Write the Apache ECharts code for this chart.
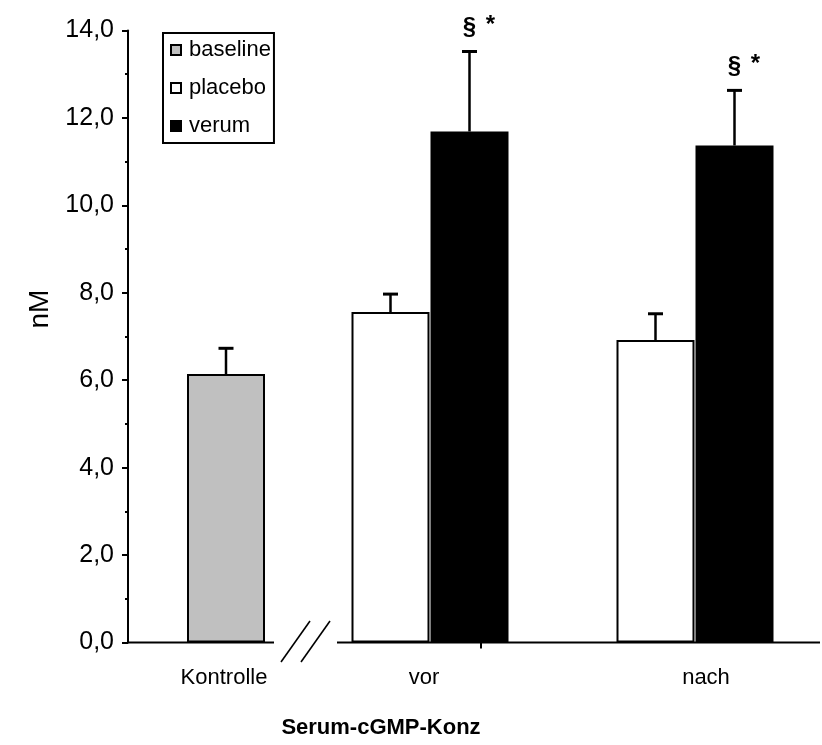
<!DOCTYPE html>
<html>
<head>
<meta charset="utf-8">
<style>
  html, body { margin: 0; padding: 0; background: #fff; }
  #chart { width: 822px; height: 745px; }
</style>
<script src="https://cdn.jsdelivr.net/npm/echarts@6/dist/echarts.min.js"></script>
</head>
<body>
<div id="chart"></div>
<script>
// Serum cGMP concentration (nM), mean + SD
const categories = ['Kontrolle', 'vor', 'nach'];
const seriesNames = ['baseline', 'placebo', 'verum'];
const baseline = [6.14, null, null];
const placebo = [null, 7.56, 6.92];
const verum = [null, 11.69, 11.37];
const baselineErr = [0.59, null, null];
const placeboErr = [null, 0.41, 0.60];
const verumErr = [null, 1.83, 1.26];
const verumMarks = [null, ['§', '*'], ['§', '*']];
const yMin = 0, yMax = 14, yStep = 2;

// Layout on the horizontal scale (one unit = one pixel from the value axis)
const X_MAX = 692;
const groupX = [98, 302, 567];
const labelX = [96, 296, 578];
const BAR_W = 78;
const barShift = { baseline: 0, placebo: -39.5, verum: 39.5 };
const axisSegments = [[0, 146], [209, X_MAX]];
const breakMarks = [153, 173];
const extraTicks = [353];

const FONT = '"Liberation Sans", Arial, sans-serif';
const colors = { baseline: '#c0c0c0', placebo: '#ffffff', verum: '#000000' };
const values = { baseline, placebo, verum };
const errors = { baseline: baselineErr, placebo: placeboErr, verum: verumErr };

function barData(name) {
  const out = [];
  categories.forEach((c, i) => {
    if (values[name][i] != null) out.push([groupX[i] + barShift[name], values[name][i]]);
  });
  return out;
}
function errData(name) {
  const out = [];
  categories.forEach((c, i) => {
    if (values[name][i] != null) out.push([groupX[i] + barShift[name], values[name][i], errors[name][i], i]);
  });
  return out;
}

const barSeries = seriesNames.map(name => ({
  name,
  type: 'bar',
  data: barData(name),
  barWidth: BAR_W,
  barGap: '-100%',
  itemStyle: { color: colors[name], borderColor: '#000', borderWidth: 2 },
  z: 2
}));

const errSeries = seriesNames.map(name => ({
  type: 'custom',
  name: name + '-sd',
  data: errData(name),
  clip: false,
  z: 4,
  encode: { x: 0, y: 1 },
  renderItem(params, api) {
    const x = api.value(0), v = api.value(1), e = api.value(2), ci = api.value(3);
    const p0 = api.coord([x, v]);
    const p1 = api.coord([x, v + e]);
    const children = [
      { type: 'line', shape: { x1: p0[0], y1: p0[1], x2: p1[0], y2: p1[1] },
        style: { stroke: '#000', lineWidth: 2.5 } },
      { type: 'line', shape: { x1: p1[0] - 7.5, y1: p1[1], x2: p1[0] + 7.5, y2: p1[1] },
        style: { stroke: '#000', lineWidth: 3 } }
    ];
    if (name === 'verum' && verumMarks[ci]) {
      const [m1, m2] = verumMarks[ci];
      children.push({ type: 'text', x: p1[0], y: p1[1] - 24,
        style: { text: m1, font: 'bold 24px ' + FONT, fill: '#000', align: 'center', verticalAlign: 'middle' } });
      children.push({ type: 'text', x: p1[0] + 21, y: p1[1] - 26,
        style: { text: m2, font: 'bold 24px ' + FONT, fill: '#000', align: 'center', verticalAlign: 'middle' } });
    }
    return { type: 'group', children };
  }
}));

// Broken category axis, break marks and category labels
const axisSeries = {
  type: 'custom',
  name: 'x-axis',
  data: [[0, 0]],
  clip: false,
  silent: true,
  z: 5,
  renderItem(params, api) {
    const children = [];
    axisSegments.forEach(([a, b]) => {
      const p = api.coord([a, 0]), q = api.coord([b, 0]);
      children.push({ type: 'line', shape: { x1: p[0], y1: p[1], x2: q[0], y2: q[1] },
        style: { stroke: '#000', lineWidth: 2 } });
    });
    extraTicks.forEach(t => {
      const p = api.coord([t, 0]);
      children.push({ type: 'line', shape: { x1: p[0], y1: p[1], x2: p[0], y2: p[1] + 6 },
        style: { stroke: '#000', lineWidth: 2 } });
    });
    breakMarks.forEach(b => {
      const p = api.coord([b, 0]);
      children.push({ type: 'line', shape: { x1: p[0], y1: p[1] + 19.5, x2: p[0] + 29, y2: p[1] - 21.5 },
        style: { stroke: '#000', lineWidth: 1.6 } });
    });
    categories.forEach((c, i) => {
      const p = api.coord([labelX[i], 0]);
      children.push({ type: 'text', x: p[0], y: p[1] + 35,
        style: { text: c, font: '22px ' + FONT, fill: '#000', align: 'center', verticalAlign: 'middle' } });
    });
    return { type: 'group', children };
  }
};

const chart = echarts.init(document.getElementById('chart'), null, { renderer: 'canvas' });
chart.setOption({
  animation: false,
  backgroundColor: '#fff',
  grid: { left: 128, right: 2, top: 30.5, bottom: 102.5 },
  title: {
    text: 'Serum-cGMP-Konz',
    left: 376,
    top: 712,
    textAlign: 'center',
    textStyle: { fontFamily: FONT, fontSize: 22, fontWeight: 'bold', color: '#000' }
  },
  legend: {
    data: seriesNames,
    orient: 'vertical',
    left: 163,
    top: 33,
    icon: 'rect',
    itemWidth: 10,
    itemHeight: 10,
    itemGap: 16,
    padding: [6, 3, 6, 7],
    borderColor: '#000',
    borderWidth: 2,
    borderRadius: 0,
    backgroundColor: '#fff',
    selectedMode: false,
    textStyle: { fontFamily: FONT, fontSize: 22, color: '#000', padding: [0, 0, 0, 3] }
  },
  xAxis: {
    type: 'value',
    min: 0,
    max: X_MAX,
    show: false
  },
  yAxis: {
    type: 'value',
    min: yMin,
    max: yMax,
    interval: yStep,
    axisLine: { show: true, lineStyle: { color: '#000', width: 2 } },
    axisTick: { show: true, length: 6, lineStyle: { color: '#000', width: 2 } },
    minorTick: { show: true, splitNumber: 2, length: 3, lineStyle: { color: '#000', width: 2 } },
    splitLine: { show: false },
    axisLabel: {
      margin: 14,
      fontFamily: FONT,
      fontSize: 25,
      color: '#000',
      formatter: v => v.toFixed(1).replace('.', ',')
    }
  },
  graphic: [{
    type: 'text',
    x: 40,
    y: 309,
    rotation: Math.PI / 2,
    style: { text: 'nM', font: '28px ' + FONT, fill: '#000', align: 'center', verticalAlign: 'middle' }
  }],
  series: [...barSeries, ...errSeries, axisSeries]
});
</script>
</body>
</html>
